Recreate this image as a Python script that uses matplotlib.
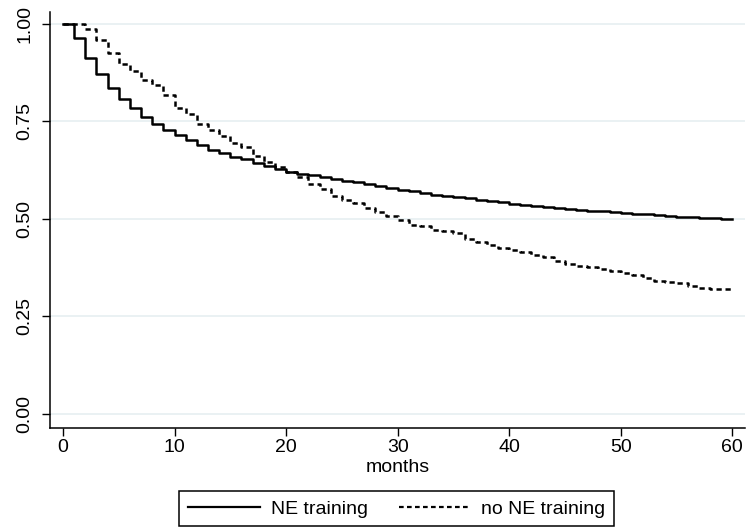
import matplotlib
matplotlib.use("Agg")
import matplotlib.pyplot as plt

plt.rcParams['font.family'] = ['Liberation Sans', 'DejaVu Sans']

months = list(range(0, 61))

# survival estimates, one value per month
ne_training = [
    1.000, 0.962, 0.913, 0.870, 0.836, 0.808, 0.783, 0.761, 0.742, 0.728,
    0.714, 0.702, 0.689, 0.677, 0.668, 0.659, 0.652, 0.644, 0.636, 0.628,
    0.620, 0.615, 0.611, 0.606, 0.602, 0.597, 0.593, 0.588, 0.583, 0.578,
    0.574, 0.570, 0.566, 0.562, 0.559, 0.555, 0.552, 0.548, 0.545, 0.542,
    0.539, 0.536, 0.533, 0.531, 0.528, 0.526, 0.523, 0.521, 0.519, 0.517,
    0.515, 0.513, 0.511, 0.509, 0.507, 0.505, 0.504, 0.503, 0.501, 0.500,
    0.499,
]
no_ne_training = [
    1.000, 1.000, 0.985, 0.957, 0.926, 0.896, 0.879, 0.856, 0.842, 0.817,
    0.785, 0.768, 0.744, 0.727, 0.712, 0.695, 0.683, 0.661, 0.646, 0.633,
    0.620, 0.606, 0.589, 0.576, 0.559, 0.549, 0.540, 0.527, 0.517, 0.508,
    0.497, 0.484, 0.481, 0.472, 0.468, 0.463, 0.448, 0.441, 0.434, 0.425,
    0.420, 0.414, 0.406, 0.402, 0.393, 0.384, 0.378, 0.377, 0.372, 0.365,
    0.360, 0.356, 0.349, 0.340, 0.338, 0.336, 0.327, 0.322, 0.321, 0.321,
    0.321,
]

x_ticks = [0, 10, 20, 30, 40, 50, 60]
y_ticks = [0.00, 0.25, 0.50, 0.75, 1.00]
y_labels = ["0.00", "0.25", "0.50", "0.75", "1.00"]

fig = plt.figure(figsize=(7.5, 5.3), dpi=100)
ax = fig.add_axes([0.0667, 0.1925, 0.926, 0.785])

for y in y_ticks:
    ax.axhline(y, color='#e8f0f2', lw=1.3, zorder=0)

ax.step(months, ne_training, where='post', color='black', lw=1.8,
        label='NE training')
ax.step(months, no_ne_training, where='post', color='black', lw=1.8,
        linestyle=(0, (2.1, 1.5)), label='no NE training')

ax.set_xlim(-1.16, 61.1)
ax.set_ylim(-0.036, 1.03)
ax.set_xticks(x_ticks)
ax.set_yticks(y_ticks)
ax.set_yticklabels(y_labels, rotation=90, va='center')
ax.tick_params(axis='both', direction='out', length=6, width=1,
               labelsize=14, colors='black')
ax.tick_params(axis='x', pad=2)
ax.tick_params(axis='y', pad=6)
ax.spines['top'].set_visible(False)
ax.spines['right'].set_visible(False)
ax.spines['left'].set_linewidth(1.1)
ax.spines['bottom'].set_linewidth(1.1)
ax.set_xlabel('months', fontsize=14, labelpad=2)

leg = fig.legend(loc='center', bbox_to_anchor=(0.529, 0.04), ncol=2,
                 fontsize=14, frameon=True, fancybox=False,
                 edgecolor='black', framealpha=1, handlelength=3.7,
                 handletextpad=0.55, columnspacing=1.6, borderpad=0.45,
                 borderaxespad=0)
leg.get_frame().set_linewidth(1.1)
for line in leg.get_lines():
    line.set_linewidth(1.6)

fig.savefig('out.png', dpi=100)
